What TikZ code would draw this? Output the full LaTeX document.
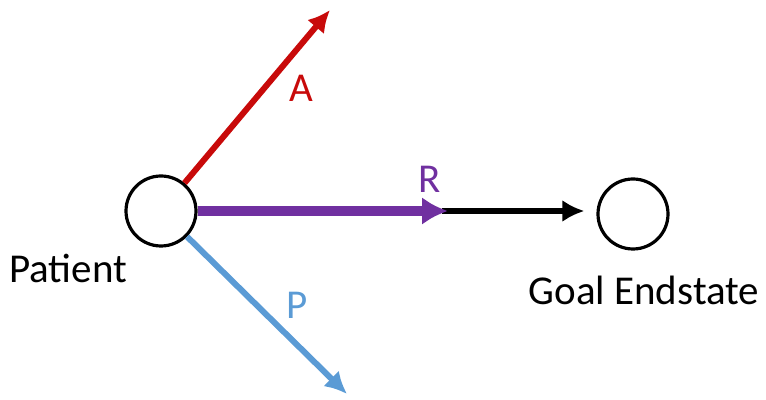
\documentclass[tikz,border=0pt]{standalone}
\usepackage{fontspec}
\setmainfont{Carlito}
\usepackage{xcolor}
\usetikzlibrary{arrows.meta,positioning,calc}

\definecolor{atkred}{RGB}{200,10,10}
\definecolor{resviolet}{RGB}{112,48,160}
\definecolor{protblue}{RGB}{91,155,213}

\begin{document}
\begin{tikzpicture}[x=0.5pt,y=-0.5pt,>=Latex,
  state/.style={circle,draw,line width=1.6pt,minimum size=35pt,inner sep=0pt},
  lbl/.style={font=\fontsize{20.5}{24}\selectfont}]
  \useasboundingbox (0,0) rectangle (766,400);
  \node[state] (patient) at (161,211) {};
  \node[state] (goal) at (633,214) {};
  \coordinate (redend) at (330,10);
  \coordinate (blueend) at (347,394);
  \coordinate (mid) at (448,211);
  % arrows out of the patient
  \draw[atkred,line width=3pt,-{Latex[length=11pt,width=11pt]}] (patient) -- (redend);
  \draw[protblue,line width=3pt,-{Latex[length=11pt,width=11pt]}] (patient) -- (blueend);
  \draw[line width=2.8pt,-{Latex[length=11pt,width=11pt]},shorten >=6pt] ($(mid)+(-6,0)$) -- (mid -| goal.west);
  \draw[resviolet,line width=4.6pt,-{Latex[length=13pt,width=14pt]}] (patient) -- (mid);
  \node[lbl,text=atkred] (alabel) at (301,88) {A};
  \node[lbl,text=resviolet] (rlabel) at (430,179) {R};
  \node[lbl,text=protblue] (plabel) at (297,305) {P};
  \node[lbl] (patientlabel) at (68,268) {Patient};
  \node[lbl] (goallabel) at (644,290) {Goal Endstate};
\end{tikzpicture}
\end{document}
